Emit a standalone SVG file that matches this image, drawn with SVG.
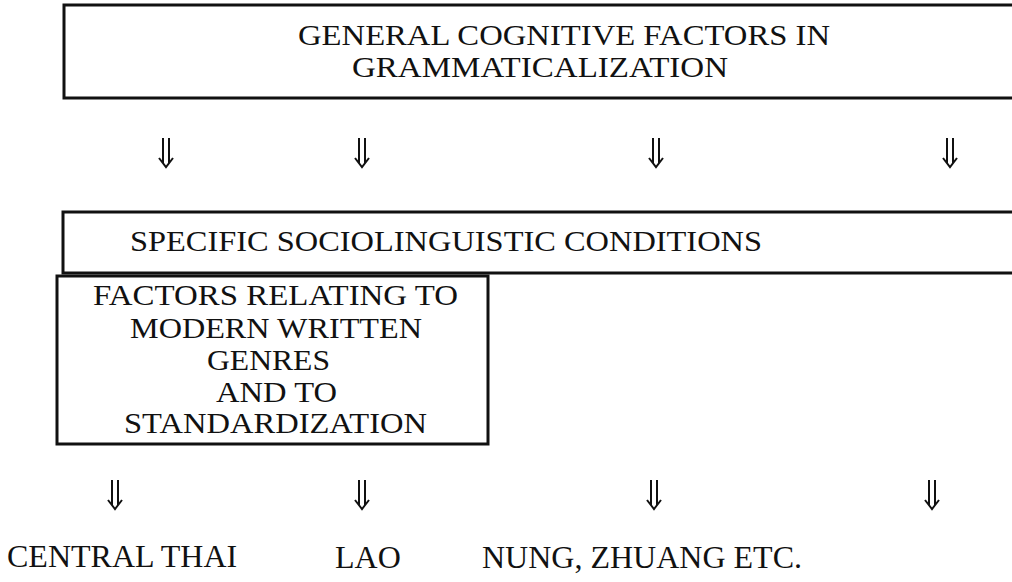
<svg xmlns="http://www.w3.org/2000/svg" width="1012" height="582" viewBox="0 0 1012 582">
<style>
.bx{fill:none;stroke:#111;stroke-width:3}
.t{font-family:"Liberation Serif","Times New Roman",serif;font-size:29px;fill:#111}
.tb{font-family:"Liberation Serif","Times New Roman",serif;font-size:32px;fill:#111}
.ar{fill:none;stroke:#111;stroke-width:2;stroke-linejoin:miter}
</style>
<defs>
<path id="dar" class="ar" d="M-3,0 V25 M3,0 V25 M-7,20 L0,29 L7,20"/>
</defs>
<rect width="1012" height="582" fill="#fff"/>
<g id="node-general">
<path class="bx" d="M1014,5 H64 V98 H1014"/>
<text class="t" x="298" y="45" textLength="532" lengthAdjust="spacingAndGlyphs">GENERAL COGNITIVE FACTORS IN</text>
<text class="t" x="352" y="77" textLength="376" lengthAdjust="spacingAndGlyphs">GRAMMATICALIZATION</text>
</g>
<g id="node-specific">
<path class="bx" d="M1014,212 H63 V273 H1014"/>
<text class="t" x="130" y="251" textLength="632" lengthAdjust="spacingAndGlyphs">SPECIFIC SOCIOLINGUISTIC CONDITIONS</text>
</g>
<g id="node-factors">
<rect class="bx" x="57" y="276" width="431" height="168"/>
<text class="t" x="93" y="305" textLength="365" lengthAdjust="spacingAndGlyphs">FACTORS RELATING TO</text>
<text class="t" x="130" y="338" textLength="292" lengthAdjust="spacingAndGlyphs">MODERN WRITTEN</text>
<text class="t" x="207" y="370" textLength="123" lengthAdjust="spacingAndGlyphs">GENRES</text>
<text class="t" x="216" y="402" textLength="121" lengthAdjust="spacingAndGlyphs">AND TO</text>
<text class="t" x="124" y="433" textLength="303" lengthAdjust="spacingAndGlyphs">STANDARDIZATION</text>
</g>
<g id="node-central-thai"><text class="tb" x="7" y="567">CENTRAL THAI</text></g>
<g id="node-lao"><text class="tb" x="335" y="568">LAO</text></g>
<g id="node-nung"><text class="tb" x="482" y="568">NUNG, ZHUANG ETC.</text></g>
<g id="connectors">
<use href="#dar" x="166" y="138"/>
<use href="#dar" x="362" y="138"/>
<use href="#dar" x="656" y="138"/>
<use href="#dar" x="950" y="138"/>
<use href="#dar" x="115" y="480"/>
<use href="#dar" x="362" y="480"/>
<use href="#dar" x="654" y="480"/>
<use href="#dar" x="932" y="480"/>
</g>
</svg>
